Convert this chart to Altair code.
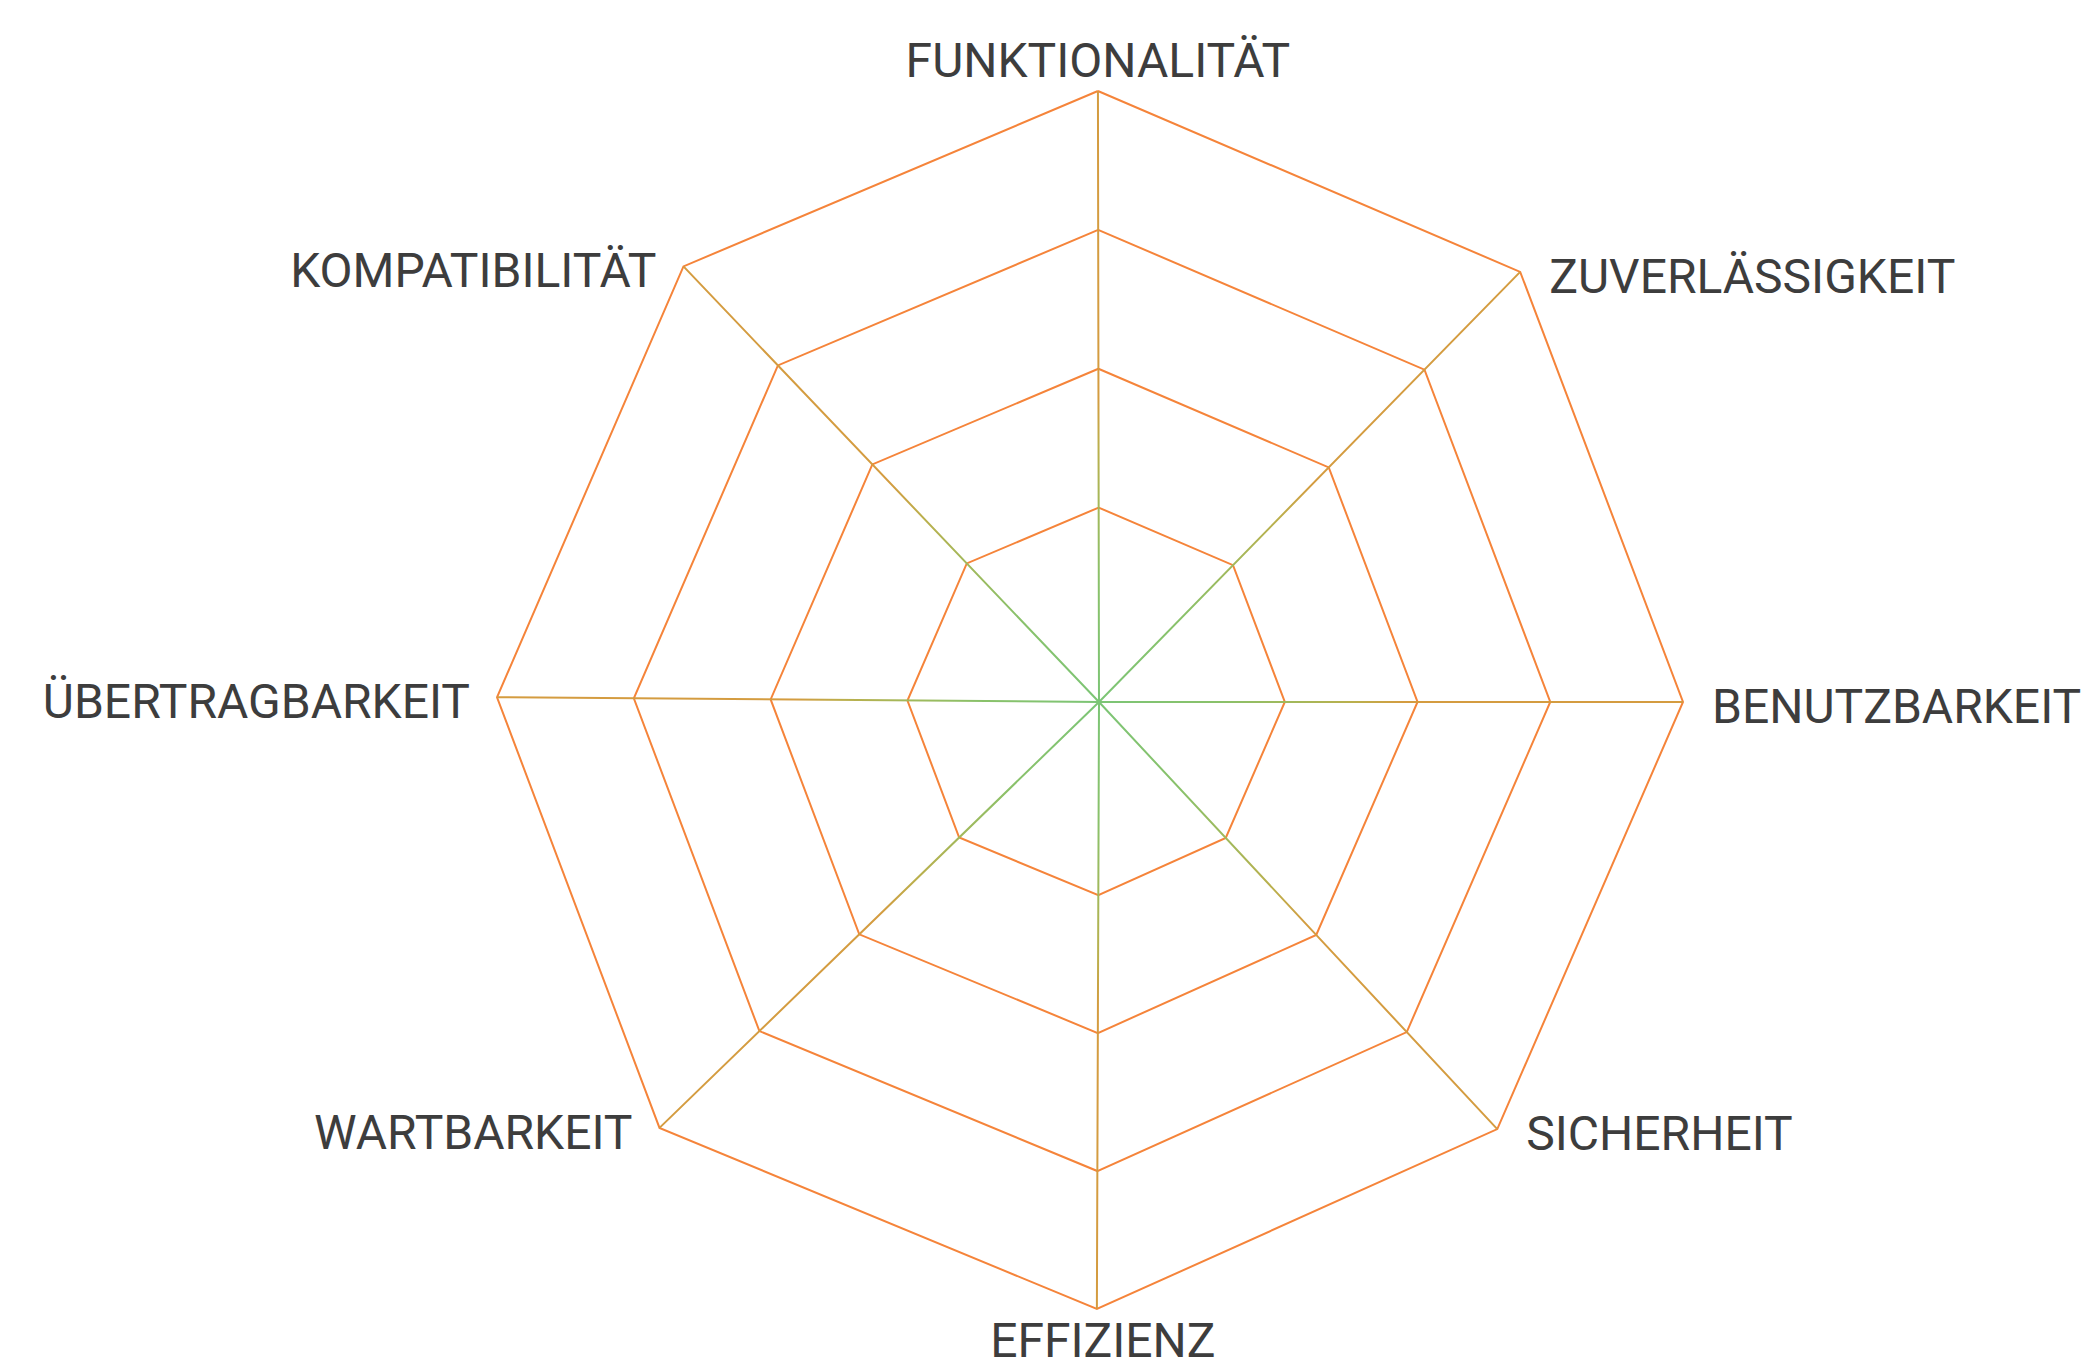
import numpy as np
import pandas as pd
import altair as alt

# ---- data ----
categories = ["FUNKTIONALITÄT", "ZUVERLÄSSIGKEIT", "BENUTZBARKEIT", "SICHERHEIT",
              "EFFIZIENZ", "WARTBARKEIT", "ÜBERTRAGBARKEIT", "KOMPATIBILITÄT"]
axis_angles = [90.1, 45.6, 0.0, -47.0, -90.2, -135.9, 179.55, 133.65]   # degrees
axis_lengths = [611, 602, 584, 584, 607, 612, 602, 602]                  # full-scale length per axis
levels = [1, 2, 3, 4]
level_min, level_max = -0.4, 4.0

label_side = ["top", "left", "left", "left", "bottom", "right", "right", "right"]

# ---- geometry tables built from the arrays ----
ang = np.deg2rad(np.array(axis_angles))
L = np.array(axis_lengths, dtype=float)
ex, ey = L * np.cos(ang), L * np.sin(ang)

ring_rows = []
for lv in levels:
    f = (lv - level_min) / (level_max - level_min)
    for k in range(len(categories) + 1):
        i = k % len(categories)
        ring_rows.append({"level": lv, "order": k, "x": ex[i] * f, "y": ey[i] * f})
rings = pd.DataFrame(ring_rows)

spoke_rows = []
o = 0
for i in range(len(categories)):
    spoke_rows.append({"order": o, "x": 0.0, "y": 0.0}); o += 1
    spoke_rows.append({"order": o, "x": ex[i], "y": ey[i]}); o += 1
spoke_rows.append({"order": o, "x": 0.0, "y": 0.0})
spokes = pd.DataFrame(spoke_rows)

labels = pd.DataFrame({"label": categories, "x": ex, "y": ey, "side": label_side})

W, H = 2077, 1366
xs = alt.Scale(domain=[-1091, 986], nice=False, zero=False)
ys = alt.Scale(domain=[694 - H, 694], nice=False, zero=False)
X = alt.X("x:Q", scale=xs, axis=None)
Y = alt.Y("y:Q", scale=ys, axis=None)

ring_color = "#F5843A"
ring_layer = alt.Chart(rings).mark_line(stroke=ring_color, strokeWidth=2).encode(
    x=X, y=Y, order="order:Q", detail="level:N")

# spoke bounding box -> gradient centre
bx0, bx1 = min(0, ex.min()), max(0, ex.max())
by0, by1 = min(0, ey.min()), max(0, ey.max())
cx = (0 - bx0) / (bx1 - bx0)
cy = (by1 - 0) / (by1 - by0)
grad = alt.RadialGradient(
    gradient="radial", x1=cx, y1=cy, r1=0, x2=cx, y2=cy, r2=0.5,
    stops=[alt.GradientStop(offset=0.0, color="#7CC576"),
           alt.GradientStop(offset=0.2, color="#8AC16A"),
           alt.GradientStop(offset=0.32, color="#A3B85A"),
           alt.GradientStop(offset=0.42, color="#BBAF4C"),
           alt.GradientStop(offset=0.5, color="#D49C40")])
spoke_layer = alt.Chart(spokes).mark_line(stroke=grad, strokeWidth=2).encode(
    x=X, y=Y, order="order:Q")

font = "Roboto"
fs = 48
tcol = "#3D3D3D"
base = alt.Chart(labels)
t_left = base.transform_filter(alt.datum.side == "left").mark_text(
    align="left", baseline="alphabetic", dx=29, dy=21, font=font, fontSize=fs, color=tcol
).encode(x=X, y=Y, text="label:N")
t_right = base.transform_filter(alt.datum.side == "right").mark_text(
    align="right", baseline="alphabetic", dx=-27, dy=21, font=font, fontSize=fs, color=tcol
).encode(x=X, y=Y, text="label:N")
t_top = base.transform_filter(alt.datum.side == "top").mark_text(
    align="center", baseline="alphabetic", dx=0, dy=-14, font=font, fontSize=fs, color=tcol
).encode(x=X, y=Y, text="label:N")
t_bot = base.transform_filter(alt.datum.side == "bottom").mark_text(
    align="center", baseline="alphabetic", dx=6, dy=48, font=font, fontSize=fs, color=tcol
).encode(x=X, y=Y, text="label:N")

chart = alt.layer(ring_layer, spoke_layer, t_left, t_right, t_top, t_bot).properties(
    width=W, height=H, padding=0, autosize=alt.AutoSizeParams(type="none"),
    background="white"
).configure_view(stroke=None)

chart.save("out.html", embed_options={"renderer": "svg", "actions": False})
